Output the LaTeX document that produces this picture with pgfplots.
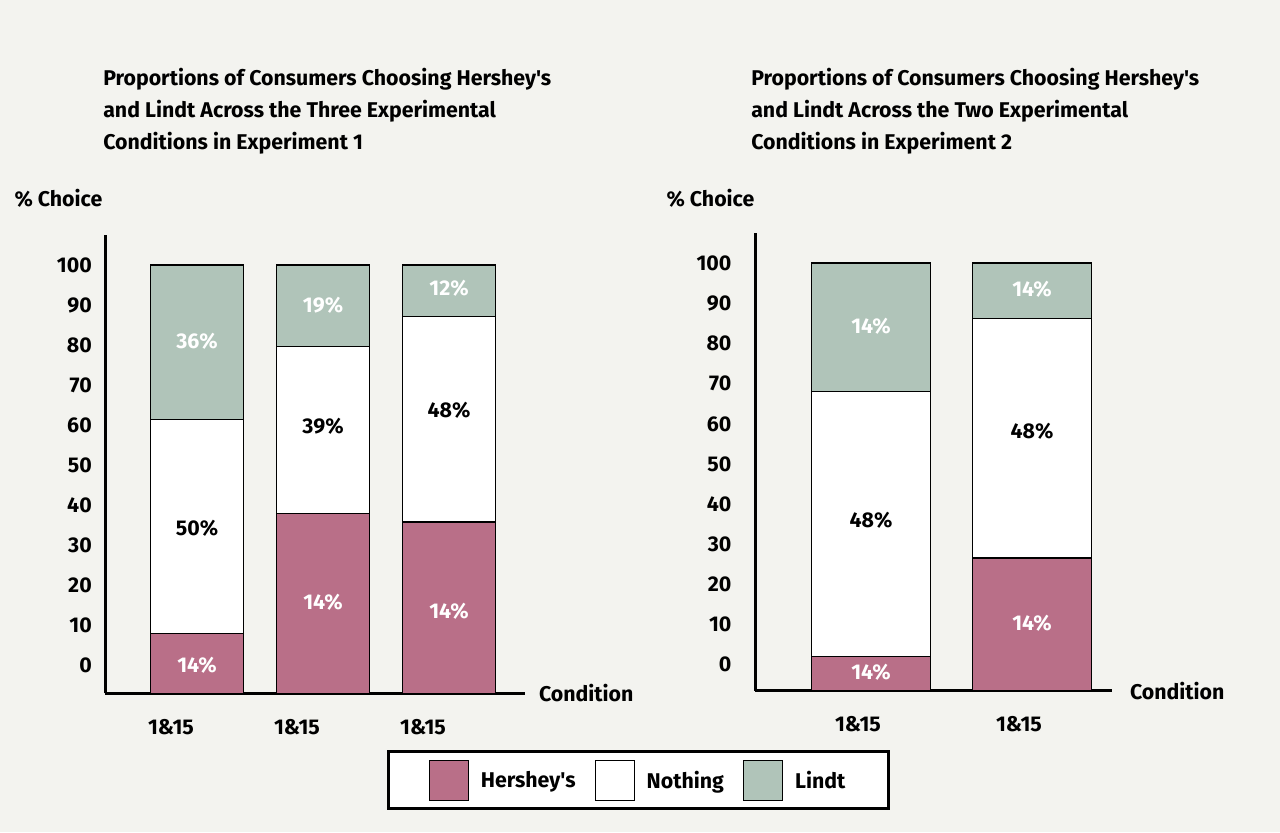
\documentclass[border=0pt]{standalone}
\usepackage{pgfplots}
\pgfplotsset{compat=1.18}
\usepackage{pgfplotstable}
\usepackage{fontspec}
\setmainfont{Fira Sans}[Ligatures=TeXOff]
\definecolor{bgc}{HTML}{F3F3EF}
\definecolor{hershey}{HTML}{B96F88}
\definecolor{lindt}{HTML}{B0C4B9}

\pgfplotstableread{
x H N L
0 14 50 36
1 42 39 19
2 40 48 12
}\tabone
\pgfplotstableread{
x H N L
0 8 62 30
1 31 56 13
}\tabtwo

\newcommand\fnt{\fontsize{16}{19}\selectfont\bfseries}

\pgfplotsset{
  mycommon/.style={
    scale only axis,
    anchor=south west,
    ybar stacked,
    axis x line*=bottom,
    axis y line*=left,
    axis line style={line width=2.25pt, black},
    ymin=0, ymax=107,
    xtick=data,
    major tick length=0pt,
    /pgf/number format/assume math mode=true,
    tick label style={font=\fnt},
    label style={font=\fnt},
    clip=false,
  },
  barstyle/.style={draw=black, line width=0.9pt, fill=#1},
}

\begin{document}
\begin{tikzpicture}
\fill[bgc] (0,0) rectangle (960pt,624pt);
\node[font=\fnt, inner sep=0pt, anchor=base west] at (77.25pt,559.5pt) {Proportions of Consumers Choosing Hershey's};
\node[font=\fnt, inner sep=0pt, anchor=base west] at (77.25pt,535.5pt) {and Lindt Across the Three Experimental};
\node[font=\fnt, inner sep=0pt, anchor=base west] at (77.25pt,511.5pt) {Conditions in Experiment 1};
\node[font=\fnt, inner sep=0pt, anchor=base west] at (563.25pt,559.5pt) {Proportions of Consumers Choosing Hershey's};
\node[font=\fnt, inner sep=0pt, anchor=base west] at (563.25pt,535.5pt) {and Lindt Across the Two Experimental};
\node[font=\fnt, inner sep=0pt, anchor=base west] at (563.25pt,511.5pt) {Conditions in Experiment 2};

% Experiment 1
\begin{axis}[mycommon,
  at={(78.75pt,104pt)},
  width=315pt, height=343.7pt,
  xmin=-0.730, xmax=2.603,
  bar width=69.75pt,
  xticklabels={1\&15,1\&15,1\&15},
  xticklabel style={anchor=center, yshift=-25pt, xshift=-19.5pt},
  ytick={6.54,15.89,25.23,34.58,43.93,53.27,62.62,71.96,81.31,90.65,100},
  yticklabels={0,10,20,30,40,50,60,70,80,90,100},
  yticklabel style={anchor=east, inner sep=0pt, xshift=-9.75pt},
  xlabel={Condition},
  xlabel style={at={(axis description cs:1,0)}, anchor=west, xshift=7pt, rotate=0},
  ylabel={\% Choice},
  ylabel style={at={(axis description cs:0,1)}, anchor=east, xshift=27.75pt, yshift=-1.5pt, rotate=-90},
  legend style={at={(1.2703,-0.19)}, anchor=center, draw=black, line width=2.25pt, fill=white,
    font=\fnt,
    /tikz/every even column/.append style={column sep=12.5pt},
    inner xsep=30pt, inner ysep=6pt},
  legend columns=3,
  legend image code/.code={\draw[#1, line width=0.75pt] (0pt,-15pt) rectangle (29.25pt,15pt);\path[draw=none,fill=none] (29.25pt,0pt) -- (36.5pt,0pt);},
]
\addplot[barstyle=hershey] table[x=x,y=H] {\tabone};
\addplot[barstyle=white] table[x=x,y=N] {\tabone};
\addplot[barstyle=lindt] table[x=x,y=L] {\tabone};
\legend{Hershey's,Nothing,Lindt}
\coordinate (a1) at (axis cs:0,6.5);
\coordinate (a2) at (axis cs:0,38.6);
\coordinate (a3) at (axis cs:0,82.2);
\coordinate (b1) at (axis cs:1,21.3);
\coordinate (b2) at (axis cs:1,62.4);
\coordinate (b3) at (axis cs:1,90.7);
\coordinate (c1) at (axis cs:2,19.2);
\coordinate (c2) at (axis cs:2,66.1);
\coordinate (c3) at (axis cs:2,94.6);
\end{axis}
\node[font=\fnt, text=white] at (a1) {14\%};
\node[font=\fnt, text=black] at (a2) {50\%};
\node[font=\fnt, text=white] at (a3) {36\%};
\node[font=\fnt, text=white] at (b1) {14\%};
\node[font=\fnt, text=black] at (b2) {39\%};
\node[font=\fnt, text=white] at (b3) {19\%};
\node[font=\fnt, text=white] at (c1) {14\%};
\node[font=\fnt, text=black] at (c2) {48\%};
\node[font=\fnt, text=white] at (c3) {12\%};

% Experiment 2
\begin{axis}[mycommon,
  at={(566.25pt,106.1pt)},
  width=267.75pt, height=343.1pt,
  xmin=-0.7205, xmax=1.497,
  bar width=89.25pt,
  xticklabels={1\&15,1\&15},
  xticklabel style={anchor=center, yshift=-25.2pt, xshift=-9.75pt},
  ytick={6.20,15.56,24.93,34.29,43.65,53.02,62.38,71.74,81.10,90.47,99.83},
  yticklabels={0,10,20,30,40,50,60,70,80,90,100},
  yticklabel style={anchor=east, inner sep=0pt, xshift=-17.5pt},
  xlabel={Condition},
  xlabel style={at={(axis description cs:1,0)}, anchor=west, xshift=10pt, rotate=0},
  ylabel={\% Choice},
  ylabel style={at={(axis description cs:0,1)}, anchor=east, xshift=26.25pt, yshift=-3pt, rotate=-90},
]
\addplot[barstyle=hershey] table[x=x,y=H] {\tabtwo};
\addplot[barstyle=white] table[x=x,y=N] {\tabtwo};
\addplot[barstyle=lindt] table[x=x,y=L] {\tabtwo};
\coordinate (d1) at (axis cs:0,4.3);
\coordinate (d2) at (axis cs:0,39.9);
\coordinate (d3) at (axis cs:0,85.3);
\coordinate (e1) at (axis cs:1,15.8);
\coordinate (e2) at (axis cs:1,60.7);
\coordinate (e3) at (axis cs:1,93.8);
\end{axis}
\node[font=\fnt, text=white] at (d1) {14\%};
\node[font=\fnt, text=black] at (d2) {48\%};
\node[font=\fnt, text=white] at (d3) {14\%};
\node[font=\fnt, text=white] at (e1) {14\%};
\node[font=\fnt, text=black] at (e2) {48\%};
\node[font=\fnt, text=white] at (e3) {14\%};

\pgfresetboundingbox
\useasboundingbox (0,0) rectangle (960pt,624pt);
\end{tikzpicture}
\end{document}
